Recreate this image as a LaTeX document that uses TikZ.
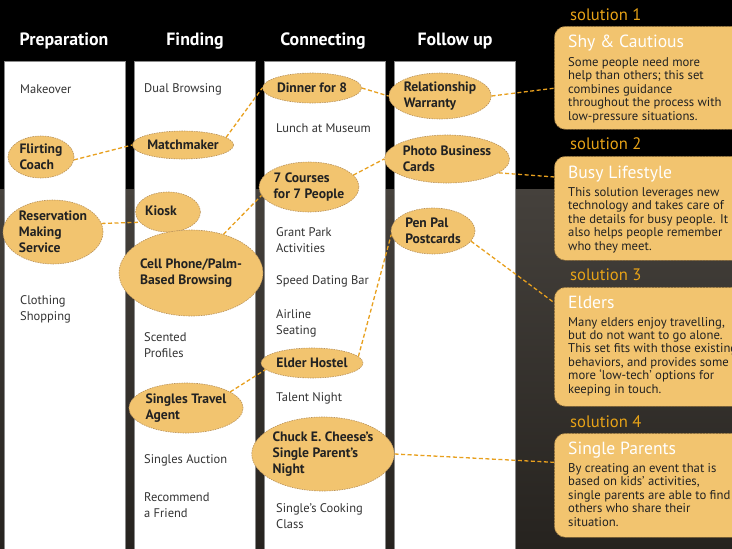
\documentclass[tikz,border=0pt]{standalone}
\usepackage{fontspec}
\setmainfont{PT Sans}
\usetikzlibrary{shapes.geometric,calc}
\definecolor{ellfill}{HTML}{F2C46F}
\definecolor{ellline}{HTML}{B8915A}
\definecolor{connc}{HTML}{E8A01E}
\definecolor{labc}{HTML}{E8A317}
\definecolor{txt}{HTML}{333333}
\definecolor{dark}{HTML}{222222}
\definecolor{colline}{HTML}{8A8A8A}
\definecolor{boxline}{HTML}{7A5E32}
\definecolor{bgtop}{HTML}{45413C}
\definecolor{bgbot}{HTML}{26231F}
\tikzset{
  item/.style={anchor=west, align=left, text=txt, inner sep=0pt, font=\fontsize{12.5}{16}\selectfont},
  ell/.style={ellipse, fill=ellfill, draw=ellline, line width=0.6pt, dash pattern=on 1.5pt off 1pt, inner sep=0pt, align=left, text=dark, font=\bfseries\fontsize{13.6}{15.8}\selectfont},
  conn/.style={draw=connc, line width=1.3pt, dash pattern=on 4pt off 2.5pt},
  hdr/.style={text=white, inner sep=0pt, font=\bfseries\fontsize{17.8}{20}\selectfont},
  col/.style={fill=white, draw=colline, line width=0.8pt},
  solbox/.style={rounded corners=11pt, fill=ellfill, draw=boxline, line width=0.7pt, dash pattern=on 2pt off 1.2pt, inner sep=0pt, anchor=north west},
  sollab/.style={anchor=base west, text=labc, inner sep=0pt, font=\fontsize{16.6}{18}\selectfont},
  soltitle/.style={anchor=base west, text=white, inner sep=0pt, font=\fontsize{17.6}{20}\selectfont},
  solbody/.style={anchor=base west, align=left, text=dark, inner sep=0pt, font=\fontsize{12.7}{13.4}\selectfont}
}
\begin{document}
\begin{tikzpicture}[x=1pt,y=-1pt]
\useasboundingbox (0,0) rectangle (732,549);
\clip (0,0) rectangle (732,549);
% background
\fill[black] (0,0) rectangle (732,189);
\shade[top color=bgtop, bottom color=bgbot] (0,189) rectangle (732,549);
% columns
\draw[col] (4,61) rectangle (125,560);
\draw[col] (134,61) rectangle (255,560);
\draw[col] (264,61) rectangle (385,560);
\draw[col] (394,61) rectangle (515,560);
% headers
\node[hdr] (h1) at (64,41) {Preparation};
\node[hdr] (h2) at (195,41) {Finding};
\node[hdr] (h3) at (323,41) {Connecting};
\node[hdr] (h4) at (455,41) {Follow up};
% plain items
\node[item] (i1) at (20,89) {Makeover};
\node[item] (i2) at (20,309) {Clothing\\Shopping};
\node[item] (i3) at (144,89) {Dual Browsing};
\node[item] (i4) at (144,345) {Scented\\Profiles};
\node[item] (i5) at (144,460) {Singles Auction};
\node[item] (i6) at (144,505) {Recommend\\a Friend};
\node[item] (i7) at (276,128) {Lunch at Museum};
\node[item] (i8) at (276,240) {Grant Park\\Activities};
\node[item] (i9) at (276,281) {Speed Dating Bar};
\node[item] (i10) at (276,323) {Airline\\Seating};
\node[item] (i11) at (276,398) {Talent Night};
\node[item] (i12) at (276,516) {Single’s Cooking\\Class};
% ellipses
\node[ell, minimum width=66pt, minimum height=42pt] (flirt) at (41,157) {Flirting\\Coach};
\node[ell, minimum width=100pt, minimum height=64pt] (resv) at (53,232) {Reservation\\Making\\Service};
\node[ell, minimum width=84pt, minimum height=28pt] (match) at (183,145) {Matchmaker};
\node[ell, minimum width=52pt, minimum height=40pt] (kiosk) at (168,212) {\raisebox{3pt}{Kiosk}\hspace{14pt}};
\node[ell, minimum width=120pt, minimum height=86pt] (cell) at (191,273) {Cell Phone/Palm-\\Based Browsing};
\node[ell, minimum width=110pt, minimum height=50pt] (travel) at (186,408) {Singles Travel\\Agent};
\node[ell, minimum width=88pt, minimum height=30pt] (dinner) at (312,88) {Dinner for 8};
\node[ell, minimum width=94pt, minimum height=50pt] (courses) at (309,187) {7 Courses\\for 7 People};
\node[ell, minimum width=102pt, minimum height=30pt] (elder) at (312,363) {Elder Hostel};
\node[ell, minimum width=130pt, minimum height=74pt] (chuck) at (323,454) {Chuck E. Cheese’s\\Single Parent’s\\Night};
\node[ell, minimum width=96pt, minimum height=46pt] (rel) at (440,96) {Relationship\\Warranty};
\node[ell, minimum width=112pt, minimum height=48pt] (pbc) at (447,159) {Photo Business\\Cards};
\node[ell, minimum width=84pt, minimum height=46pt] (penpal) at (433,231) {Pen Pal\\Postcards};
% solution boxes
\node[solbox, minimum width=200pt, minimum height=103pt] (b1) at (554,26) {};
\node[solbox, minimum width=200pt, minimum height=104pt] (b2) at (554,156) {};
\node[solbox, minimum width=200pt, minimum height=119pt] (b3) at (554,287) {};
\node[solbox, minimum width=200pt, minimum height=104pt] (b4) at (554,433) {};
\node[sollab] (l1) at (570,20) {solution 1};
\node[sollab] (l2) at (570,149) {solution 2};
\node[sollab] (l3) at (570,280) {solution 3};
\node[sollab] (l4) at (570,427) {solution 4};
\node[soltitle] (t1) at (568,47.5) {Shy \& Cautious};
\node[soltitle] (t2) at (568,178.5) {Busy Lifestyle};
\node[soltitle] (t3) at (568,308.5) {Elders};
\node[soltitle] (t4) at (568,454.5) {Single Parents};
% base = baseline of last line
\node[solbody] (s1) at (568,120) {Some people need more\\help than others; this set\\combines guidance\\throughout the process with\\low-pressure situations.};
\node[solbody] (s2) at (568,250) {This solution leverages new\\technology and takes care of\\the details for busy people. It\\also helps people remember\\who they meet.};
\node[solbody] (s3) at (568,393) {Many elders enjoy travelling,\\but do not want to go alone.\\This set fits with those existing\\behaviors, and provides some\\more ‘low-tech’ options for\\keeping in touch.};
\node[solbody] (s4) at (568,526) {By creating an event that is\\based on kids’ activities,\\single parents are able to find\\others who share their\\situation.};
% connectors
\draw[conn] (flirt.-5) -- (match.west);
\draw[conn] (match.10) -- (dinner.west);
\draw[conn] (dinner.east) -- (rel.west);
\draw[conn] (rel.east) -- ($(b1.north west)!0.6!(b1.south west)$);
\draw[conn] (resv.10) -- (kiosk.200);
\draw[conn] (cell.50) -- (courses.190);
\draw[conn] (courses.15) -- (pbc.west);
\draw[conn] (pbc.-15) -- ($(b2.north west)!0.2!(b2.south west)$);
\draw[conn] (travel.20) -- (elder.188);
\draw[conn] (elder.8) -- (penpal.185);
\draw[conn] (penpal.-15) -- ($(b3.north west)!0.13!(b3.south west)$);
\draw[conn] (chuck.east) -- ($(b4.north west)!0.28!(b4.south west)$);
\end{tikzpicture}
\end{document}
